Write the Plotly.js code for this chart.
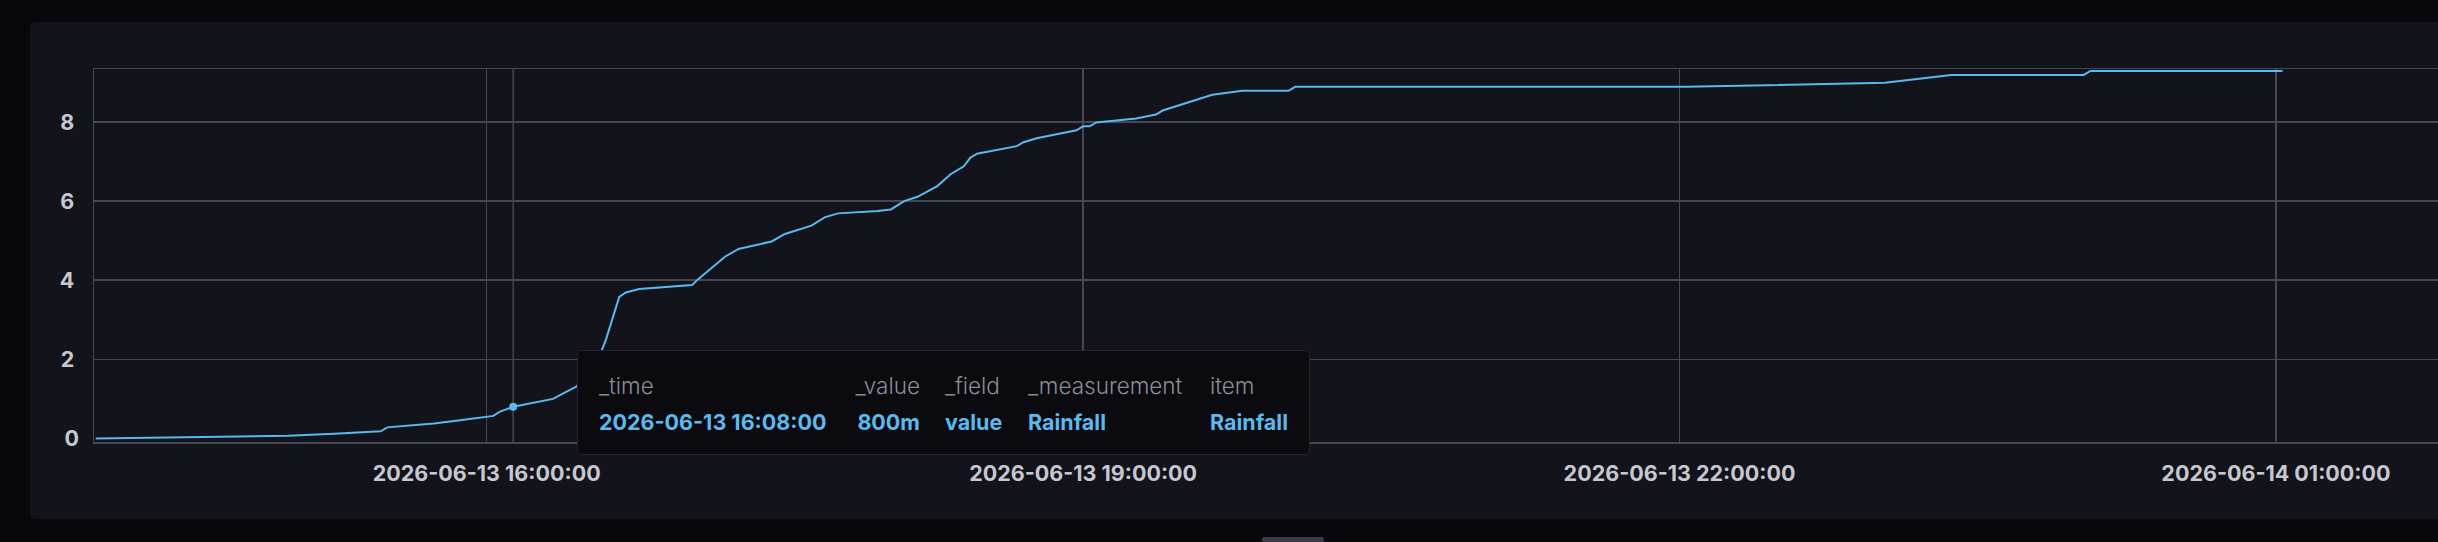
<!DOCTYPE html>
<html>
<head>
<meta charset="utf-8">
<script src="https://cdn.plot.ly/plotly-3.0.1.min.js"></script>
<style>
  html, body { margin: 0; padding: 0; background: #08080c; width: 2438px; height: 542px; overflow: hidden; }
  #panel { position: absolute; left: 30px; top: 22px; width: 2450px; height: 497px; background: #12131b; border-radius: 5px; }
  #chart { position: absolute; left: 0; top: 0; width: 2438px; height: 542px; }
  #tip { position: absolute; left: 577px; top: 350px; width: 731px; height: 103px; background: #0a0a0f;
         border: 1.5px solid #23242f; border-radius: 5px; font-family: Inter, "Noto Sans", sans-serif; }
  #tip span { position: absolute; white-space: nowrap; line-height: 1; }
  #tip .h { color: #8c8d99; font-weight: 300; font-size: 22.5px; top: 24px; }
  #tip .v { color: #5ab9ee; font-weight: 700; font-size: 21.5px; top: 61px; }
  #handle { position: absolute; left: 1262px; top: 537px; width: 62px; height: 5px; background: #3a3b47; border-radius: 2px; }
</style>
</head>
<body>
<div id="panel"></div>
<div id="chart"></div>
<div id="tip"></div>
<div id="handle"></div>
<script>
// ---- data ----
const times = [
  '2026-06-13 14:02:00','2026-06-13 15:00:00','2026-06-13 15:14:00','2026-06-13 15:28:00','2026-06-13 15:30:00',
  '2026-06-13 15:44:00','2026-06-13 15:52:00','2026-06-13 16:02:00','2026-06-13 16:04:00','2026-06-13 16:08:00',
  '2026-06-13 16:20:00','2026-06-13 16:27:00','2026-06-13 16:32:00','2026-06-13 16:36:00','2026-06-13 16:40:00',
  '2026-06-13 16:42:00','2026-06-13 16:46:00','2026-06-13 17:02:00','2026-06-13 17:04:00','2026-06-13 17:06:00',
  '2026-06-13 17:08:00','2026-06-13 17:12:00','2026-06-13 17:16:00','2026-06-13 17:26:00','2026-06-13 17:30:00',
  '2026-06-13 17:38:00','2026-06-13 17:42:00','2026-06-13 17:46:00','2026-06-13 17:58:00','2026-06-13 18:02:00',
  '2026-06-13 18:06:00','2026-06-13 18:10:00','2026-06-13 18:16:00','2026-06-13 18:20:00','2026-06-13 18:24:00',
  '2026-06-13 18:26:00','2026-06-13 18:28:00','2026-06-13 18:40:00','2026-06-13 18:42:00','2026-06-13 18:46:00',
  '2026-06-13 18:58:00','2026-06-13 19:00:00','2026-06-13 19:02:00','2026-06-13 19:04:00','2026-06-13 19:16:00',
  '2026-06-13 19:22:00','2026-06-13 19:24:00','2026-06-13 19:39:00','2026-06-13 19:48:00','2026-06-13 20:02:00',
  '2026-06-13 20:04:00','2026-06-13 22:02:00','2026-06-13 23:02:00','2026-06-13 23:22:00','2026-06-14 00:02:00',
  '2026-06-14 00:04:00','2026-06-14 01:02:00'
];
const rainfall = [
  0.00, 0.07, 0.12, 0.18, 0.28,
  0.38, 0.46, 0.57, 0.68, 0.80,
  1.00, 1.31, 1.65, 2.50, 3.58,
  3.69, 3.78, 3.88, 4.04, 4.18,
  4.30, 4.60, 4.79, 4.98, 5.17,
  5.38, 5.59, 5.69, 5.75, 5.79,
  6.00, 6.11, 6.38, 6.68, 6.88,
  7.10, 7.20, 7.39, 7.49, 7.59,
  7.79, 7.89, 7.89, 7.99, 8.09,
  8.19, 8.29, 8.69, 8.79, 8.79,
  8.89, 8.89, 8.99, 9.19, 9.19,
  9.29, 9.29
];
const yGridTicks = [2, 4, 6, 8];
const yZeroTick = [0];
const tooltipHeaders = ['_time', '_value', '_field', '_measurement', 'item'];
const hoverTime = '2026-06-13 16:08:00';
const fieldName = 'value';
const measurementName = 'Rainfall';
const itemName = 'Rainfall';

// ---- styles ----
const lineColor = '#5ab9ee';
const gridColor = '#464654';
const tickFont = { family: 'Inter, "Noto Sans", sans-serif', size: 21.5, color: '#c6c7cf', weight: 700 };
const yRange = [-0.09, 9.34];
const xRange = ['2026-06-13 14:01:29', '2026-06-14 01:48:55'];

const hoverIndex = times.indexOf(hoverTime);

const traces = [
  { x: times, y: rainfall, type: 'scatter', mode: 'lines', line: { color: lineColor, width: 2 }, hoverinfo: 'skip' },
  { x: [times[hoverIndex]], y: [rainfall[hoverIndex]], yaxis: 'y2', type: 'scatter', mode: 'markers',
    marker: { color: lineColor, size: 8 }, hoverinfo: 'skip' }
];

const layout = {
  width: 2438, height: 542,
  margin: { l: 94, r: 0, t: 69, b: 100 },
  paper_bgcolor: 'rgba(0,0,0,0)', plot_bgcolor: 'rgba(0,0,0,0)',
  showlegend: false,
  font: tickFont,
  xaxis: {
    type: 'date', range: xRange, tick0: '2026-06-13 16:00:00', dtick: 3 * 3600 * 1000,
    tickformat: '%Y-%m-%d %H:%M:%S', showgrid: true, gridcolor: gridColor, gridwidth: 1.5,
    showline: true, linecolor: gridColor, linewidth: 1.5, mirror: true, zeroline: false,
    ticks: '', ticklabelstandoff: 12, tickfont: tickFont
  },
  yaxis: {
    range: yRange, tickvals: yGridTicks, showgrid: true, gridcolor: gridColor, gridwidth: 1.5,
    showline: true, linecolor: gridColor, linewidth: 1.5, zeroline: false,
    ticks: '', ticklabelstandoff: 14, tickfont: tickFont
  },
  yaxis2: {
    overlaying: 'y', side: 'left', range: yRange, tickvals: yZeroTick, showgrid: false,
    showline: false, zeroline: false, ticks: '', ticklabelstandoff: 14, tickfont: tickFont
  },
  shapes: [{
    type: 'line', xref: 'x', yref: 'paper', x0: times[hoverIndex], x1: times[hoverIndex], y0: 0, y1: 1,
    line: { color: gridColor, width: 1.5 }, layer: 'below'
  }]
};

Plotly.newPlot('chart', traces, layout, { displayModeBar: false, staticPlot: true });

// ---- tooltip (HTML overlay) ----
const tip = document.getElementById('tip');
const valText = Math.round(rainfall[hoverIndex] * 1000) + 'm';
const cols = [
  { h: tooltipHeaders[0], v: hoverTime, left: 21 },
  { h: tooltipHeaders[1], v: valText, right: 731 - 342 },
  { h: tooltipHeaders[2], v: fieldName, left: 367 },
  { h: tooltipHeaders[3], v: measurementName, left: 450 },
  { h: tooltipHeaders[4], v: itemName, left: 632 }
];
cols.forEach(c => {
  ['h', 'v'].forEach(k => {
    const s = document.createElement('span');
    s.className = k;
    s.textContent = c[k];
    if (c.left !== undefined) s.style.left = c.left + 'px';
    else s.style.right = c.right + 'px';
    tip.appendChild(s);
  });
});
</script>
</body>
</html>
